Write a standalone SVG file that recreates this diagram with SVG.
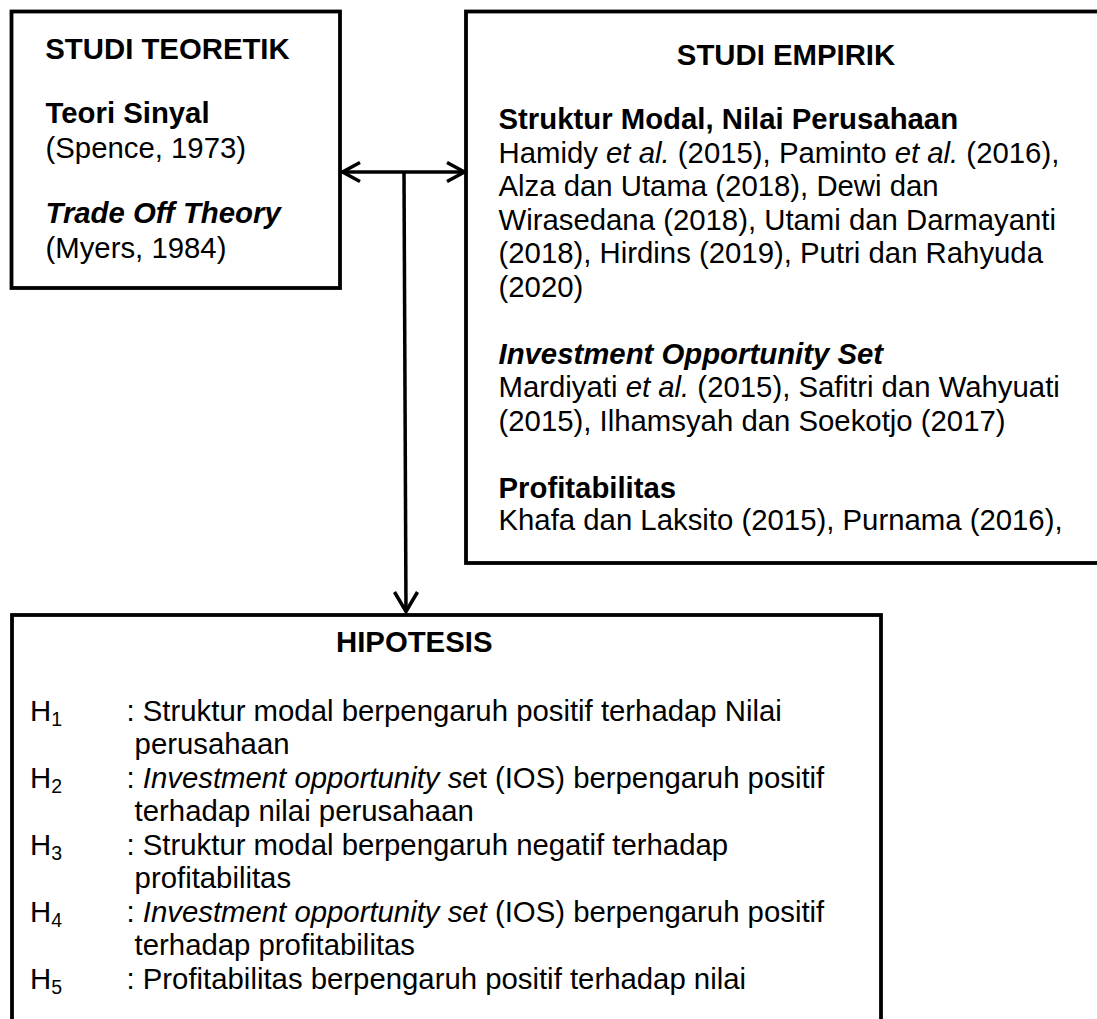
<svg xmlns="http://www.w3.org/2000/svg" width="1097" height="1019" viewBox="0 0 1097 1019">
<style>
.box{fill:#fff;stroke:#000;stroke-width:3.8}
.t{font-family:"Liberation Sans",Arial,sans-serif;font-size:29.33px;fill:#000}
.b{font-weight:bold}
.i{font-style:italic}
.s{font-size:19.5px}
.conn{fill:none;stroke:#000;stroke-width:3.5}
</style>
<defs>
<clipPath id="clipH"><rect x="0" y="600" width="1097" height="395"/></clipPath>
</defs>
<rect width="1097" height="1019" fill="#fff"/>
<g id="studi-teoretik">
<rect class="box" x="11.5" y="11.5" width="328.5" height="276.5"/>
<text class="t b" x="45.3" y="59.3">STUDI TEORETIK</text>
<text class="t b" x="45.5" y="123.3">Teori Sinyal</text>
<text class="t" x="45.5" y="158.3">(Spence, 1973)</text>
<text class="t b i" x="45.5" y="223.3">Trade Off Theory</text>
<text class="t" x="45.5" y="258.3">(Myers, 1984)</text>
</g>
<g id="studi-empirik">
<rect class="box" x="466" y="11.5" width="660" height="551.5"/>
<text class="t b" x="786" y="65" text-anchor="middle">STUDI EMPIRIK</text>
<text class="t b" x="498.5" y="129">Struktur Modal, Nilai Perusahaan</text>
<text class="t" x="498.5" y="162.5">Hamidy <tspan class="i">et al.</tspan> (2015), Paminto <tspan class="i">et al.</tspan> (2016),</text>
<text class="t" x="498.5" y="196">Alza dan Utama (2018), Dewi dan</text>
<text class="t" x="498.5" y="229.5">Wirasedana (2018), Utami dan Darmayanti</text>
<text class="t" x="498.5" y="263">(2018), Hirdins (2019), Putri dan Rahyuda</text>
<text class="t" x="498.5" y="296.5">(2020)</text>
<text class="t b i" x="498.5" y="363.5">Investment Opportunity Set</text>
<text class="t" x="498.5" y="397">Mardiyati <tspan class="i">et al.</tspan> (2015), Safitri dan Wahyuati</text>
<text class="t" x="498.5" y="430.5">(2015), Ilhamsyah dan Soekotjo (2017)</text>
<text class="t b" x="498.5" y="497.5">Profitabilitas</text>
<text class="t" x="498.5" y="530">Khafa dan Laksito (2015), Purnama (2016),</text>
</g>
<g id="hipotesis">
<rect class="box" x="12" y="615" width="869" height="440"/>
<text class="t b" x="336" y="651.7">HIPOTESIS</text>
<g clip-path="url(#clipH)">
<text class="t" x="30" y="720.7">H<tspan class="s" dy="5">1</tspan></text>
<text class="t" x="126.5" y="720.7">: Struktur modal berpengaruh positif terhadap Nilai</text>
<text class="t" x="134.6" y="754.2">perusahaan</text>
<text class="t" x="30" y="787.7">H<tspan class="s" dy="5">2</tspan></text>
<text class="t" x="126.5" y="787.7">: <tspan class="i">Investment opportunity se</tspan>t (IOS) berpengaruh positif</text>
<text class="t" x="134.6" y="821.2">terhadap nilai perusahaan</text>
<text class="t" x="30" y="854.7">H<tspan class="s" dy="5">3</tspan></text>
<text class="t" x="126.5" y="854.7">: Struktur modal berpengaruh negatif terhadap</text>
<text class="t" x="134.6" y="888.2">profitabilitas</text>
<text class="t" x="30" y="921.7">H<tspan class="s" dy="5">4</tspan></text>
<text class="t" x="126.5" y="921.7">: <tspan class="i">Investment opportunity set</tspan> (IOS) berpengaruh positif</text>
<text class="t" x="134.6" y="955.2">terhadap profitabilitas</text>
<text class="t" x="30" y="988.7">H<tspan class="s" dy="5">5</tspan></text>
<text class="t" x="126.5" y="988.7">: Profitabilitas berpengaruh positif terhadap nilai</text>
</g>
</g>
<g id="connectors">
<line class="conn" x1="341.5" y1="172" x2="465" y2="172"/>
<polyline class="conn" points="360,162.5 342.5,172 360,181.5"/>
<polyline class="conn" points="447,162.5 464.5,172 447,181.5"/>
<line class="conn" x1="404" y1="172" x2="406" y2="612"/>
<polyline class="conn" points="394.5,592 406,611.5 417.5,592"/>
</g>
</svg>
